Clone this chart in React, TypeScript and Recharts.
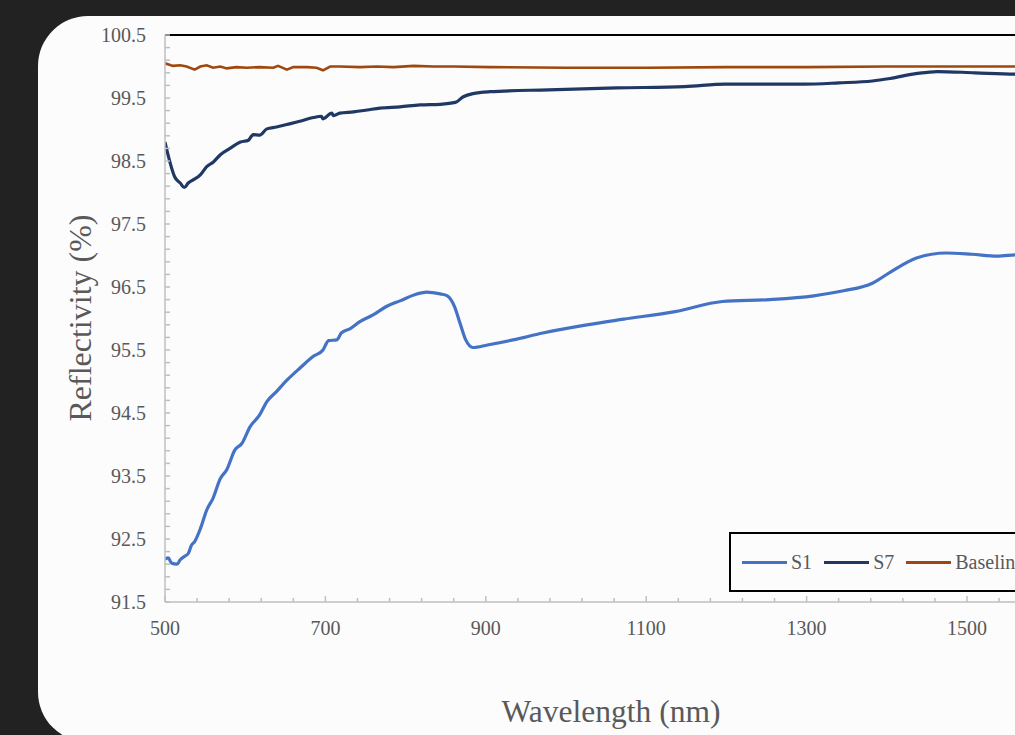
import React from 'react';
import { LineChart, Line, XAxis, YAxis, ReferenceLine, Legend } from 'recharts';

// ---- data ----
const s1Wavelength = [500, 504, 508, 515, 519, 525, 529, 533, 537, 544, 552, 560, 569, 577, 587, 596, 606, 618, 627, 639, 652, 668, 685, 697, 704, 714, 720, 731, 743, 760, 776, 793, 814, 826, 843, 852, 861, 868, 875, 884, 902, 934, 971, 1026, 1072, 1136, 1195, 1254, 1309, 1346, 1382, 1405, 1437, 1474, 1506, 1538, 1560, 1590];
const s1Reflectivity = [92.18, 92.2, 92.12, 92.1, 92.17, 92.23, 92.27, 92.4, 92.46, 92.66, 92.96, 93.15, 93.46, 93.6, 93.91, 94.02, 94.28, 94.47, 94.68, 94.84, 95.02, 95.21, 95.4, 95.5, 95.65, 95.66, 95.77, 95.84, 95.95, 96.06, 96.19, 96.28, 96.39, 96.42, 96.39, 96.36, 96.19, 95.92, 95.66, 95.54, 95.58, 95.66, 95.77, 95.9, 95.99, 96.11, 96.27, 96.3, 96.36, 96.44, 96.56, 96.74, 96.96, 97.04, 97.02, 96.99, 97.01, 97.02];

const s7Wavelength = [500, 506, 512, 519, 524, 529, 535, 544, 552, 560, 569, 581, 594, 604, 610, 618, 627, 639, 652, 668, 685, 695, 697, 708, 710, 718, 735, 752, 768, 793, 818, 843, 862, 872, 884, 905, 978, 1063, 1148, 1199, 1297, 1340, 1382, 1404, 1438, 1463, 1510, 1560, 1590];
const s7Reflectivity = [98.8, 98.49, 98.25, 98.15, 98.08, 98.15, 98.2, 98.28, 98.41, 98.48, 98.6, 98.7, 98.8, 98.83, 98.92, 98.91, 99.01, 99.04, 99.08, 99.13, 99.19, 99.21, 99.17, 99.26, 99.22, 99.26, 99.28, 99.31, 99.34, 99.36, 99.39, 99.4, 99.43, 99.52, 99.57, 99.6, 99.63, 99.66, 99.68, 99.72, 99.72, 99.74, 99.77, 99.81, 99.89, 99.92, 99.9, 99.88, 99.88];

const baselineWavelength = [500, 510, 519, 527, 537, 544, 552, 560, 569, 577, 589, 602, 618, 635, 641, 652, 660, 677, 689, 697, 706, 718, 743, 764, 785, 810, 835, 860, 905, 1000, 1100, 1200, 1300, 1400, 1500, 1560, 1590];
const baselineReflectivity = [100.05, 100.01, 100.02, 100.0, 99.95, 100.0, 100.02, 99.98, 100.0, 99.97, 99.99, 99.98, 99.99, 99.98, 100.01, 99.95, 99.99, 99.99, 99.98, 99.94, 100.0, 100.0, 99.99, 100.0, 99.99, 100.01, 100.0, 100.0, 99.99, 99.98, 99.98, 99.99, 99.99, 100.0, 100.0, 100.0, 100.0];

const xTickLabels = [500, 700, 900, 1100, 1300, 1500];
const yTickLabels = [91.5, 92.5, 93.5, 94.5, 95.5, 96.5, 97.5, 98.5, 99.5, 100.5];
const seriesNames = ['S1', 'S7', 'Baseline'];
const seriesColors = ['#4472c4', '#203864', '#9e480e'];

// ---- style constants ----
const FONT = '"Liberation Serif", "Times New Roman", serif';
const TEXT = '#595959';
const AXIS = '#bfbfbf';

const toPoints = (xs: number[], ys: number[]) => xs.map((w, i) => ({ wavelength: w, value: ys[i] }));

const series = [
  { name: seriesNames[0], color: seriesColors[0], data: toPoints(s1Wavelength, s1Reflectivity), width: 3.2, curve: 'monotone' },
  { name: seriesNames[1], color: seriesColors[1], data: toPoints(s7Wavelength, s7Reflectivity), width: 3.2, curve: 'monotone' },
  { name: seriesNames[2], color: seriesColors[2], data: toPoints(baselineWavelength, baselineReflectivity), width: 2.6, curve: 'linear' },
];

// minor tick positions (every 40 nm / every 0.2 %)
const xTicks = Array.from({ length: 31 }, (_, i) => 500 + 40 * i);
const yTicks = Array.from({ length: 46 }, (_, i) => Math.round((91.5 + 0.2 * i) * 10) / 10);

const XTick = (props: any) => {
  const { x, y, payload } = props;
  const v = payload.value;
  const major = (v - 500) % 200 === 0;
  const labelled = xTickLabels.includes(v);
  return (
    <g>
      <line x1={x} x2={x} y1={y} y2={y - (major ? 6 : 4)} stroke={AXIS} strokeWidth={1.5} />
      {labelled && (
        <text x={x} y={y + 26} textAnchor="middle" dominantBaseline="central" fill={TEXT} fontSize={20} fontFamily={FONT}>
          {v}
        </text>
      )}
    </g>
  );
};

const YTick = (props: any) => {
  const { x, y, payload } = props;
  const v = payload.value;
  const major = yTickLabels.some((t) => Math.abs(t - v) < 1e-6);
  return (
    <g>
      <line x1={x} x2={x + 5} y1={y} y2={y} stroke={AXIS} strokeWidth={1.5} />
      {major && (
        <text x={x - 19} y={y} textAnchor="end" dominantBaseline="central" fill={TEXT} fontSize={20} fontFamily={FONT}>
          {v.toFixed(1)}
        </text>
      )}
    </g>
  );
};

const LegendBox = (props: any) => {
  const payload = [...(props.payload || [])].sort(
    (a: any, b: any) => seriesNames.indexOf(a.value) - seriesNames.indexOf(b.value)
  );
  return (
    <div
      style={{
        width: 312,
        height: 60,
        boxSizing: 'border-box',
        border: '2px solid #000',
        background: '#fcfcfc',
        display: 'flex',
        alignItems: 'center',
        paddingLeft: 11,
        fontFamily: FONT,
        fontSize: 20,
        color: TEXT,
        whiteSpace: 'nowrap',
        overflow: 'hidden',
      }}
    >
      {payload.map((p: any, i: number) => (
        <div key={i} style={{ display: 'flex', alignItems: 'center', marginRight: 12 }}>
          <div style={{ width: 45, height: 3, background: p.color, marginRight: 4 }} />
          <span style={{ lineHeight: 1 }}>{p.value}</span>
        </div>
      ))}
    </div>
  );
};

export default function App() {
  return (
    <div style={{ position: 'fixed', left: 0, top: 0, width: 1015, height: 735, overflow: 'hidden', background: '#222222' }}>
      <div style={{ position: 'absolute', left: 38, top: 16, width: 1300, height: 726, background: '#fcfcfc', borderRadius: 50 }} />
      <div style={{ position: 'absolute', left: 0, top: 0 }}>
        <LineChart width={1200} height={735} margin={{ top: 35, right: 72.6, bottom: 93, left: 65 }}>
          <XAxis
            dataKey="wavelength"
            type="number"
            domain={[500, 1700]}
            allowDataOverflow
            ticks={xTicks}
            interval={0}
            tickSize={0}
            tickMargin={0}
            tickLine={false}
            tick={<XTick />}
            height={40}
            axisLine={{ stroke: AXIS, strokeWidth: 1.5 }}
          />
          <YAxis
            type="number"
            domain={[91.5, 100.5]}
            allowDataOverflow
            ticks={yTicks}
            interval={0}
            tickSize={0}
            tickMargin={0}
            tickLine={false}
            tick={<YTick />}
            width={100}
            axisLine={{ stroke: AXIS, strokeWidth: 1.5 }}
          />
          <ReferenceLine y={100.5} stroke="#000" strokeWidth={2} />
          {series.map((s) => (
            <Line
              key={s.name}
              data={s.data}
              dataKey="value"
              name={s.name}
              type={s.curve as any}
              stroke={s.color}
              strokeWidth={s.width}
              dot={false}
              activeDot={false}
              isAnimationActive={false}
            />
          ))}
          <Legend
            layout="horizontal"
            verticalAlign="middle"
            align="center"
            content={<LegendBox />}
            wrapperStyle={{ left: 729, top: 532, width: 312, height: 60 }}
          />
        </LineChart>
      </div>
      <div
        style={{
          position: 'absolute',
          left: 611,
          top: 712,
          transform: 'translate(-50%, -50%)',
          fontFamily: FONT,
          fontSize: 31.5,
          color: TEXT,
          whiteSpace: 'nowrap',
          lineHeight: 1,
        }}
      >
        Wavelength (nm)
      </div>
      <div
        style={{
          position: 'absolute',
          left: 80,
          top: 318,
          transform: 'translate(-50%, -50%) rotate(-90deg)',
          fontFamily: FONT,
          fontSize: 32,
          color: TEXT,
          whiteSpace: 'nowrap',
          lineHeight: 1,
        }}
      >
        Reflectivity (%)
      </div>
    </div>
  );
}
